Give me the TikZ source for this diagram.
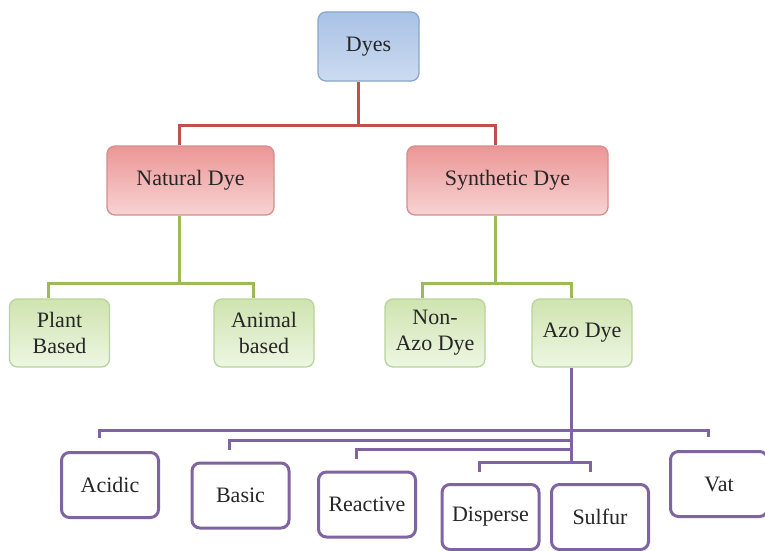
\documentclass[tikz,border=0pt]{standalone}
\usepackage{fontspec}
\setmainfont{Liberation Serif}
\definecolor{txt}{HTML}{262626}
\definecolor{redln}{HTML}{C0504D}
\definecolor{grnln}{HTML}{9BBB59}
\definecolor{purln}{HTML}{8064A2}
\definecolor{bluebd}{HTML}{8AA6CC}
\definecolor{bluetop}{HTML}{A9C2E6}
\definecolor{bluebot}{HTML}{CCDBF0}
\definecolor{redbd}{HTML}{D58E8E}
\definecolor{redtop}{HTML}{EC9696}
\definecolor{redbot}{HTML}{F7D3D3}
\definecolor{grnbd}{HTML}{B8D49A}
\definecolor{grntop}{HTML}{CFE4B0}
\definecolor{grnbot}{HTML}{EEF6E2}
\tikzset{
  box/.style={rectangle, rounded corners=8pt, align=center, text=txt,
    font=\fontsize{22}{26}\selectfont, inner sep=2pt},
  bluebox/.style={box, draw=bluebd, line width=1.3pt, top color=bluetop, bottom color=bluebot,
    minimum width=101pt, minimum height=69pt},
  redbox/.style={box, draw=redbd, line width=1.3pt, top color=redtop, bottom color=redbot,
    minimum height=69pt},
  grnbox/.style={box, draw=grnbd, line width=1.3pt, top color=grntop, bottom color=grnbot,
    minimum width=100pt, minimum height=68pt},
  purbox/.style={box, draw=purln, line width=3pt, fill=white,
    minimum width=97pt, minimum height=65pt},
  redc/.style={draw=redln, line width=3pt},
  grnc/.style={draw=grnln, line width=3pt},
  purc/.style={draw=purln, line width=3pt},
}
\begin{document}
\begin{tikzpicture}[x=1pt,y=-1pt]
\useasboundingbox (0,0) rectangle (765,551);
\fill[white] (0,0) rectangle (765,551);
% nodes
\node[bluebox] (dyes) at (368.5,46.5) {Dyes};
\node[redbox, minimum width=167pt] (nat) at (190.5,180.5) {Natural Dye};
\node[redbox, minimum width=201pt] (syn) at (507.5,180.5) {Synthetic Dye};
\node[grnbox] (plant) at (59.5,333) {Plant\\Based};
\node[grnbox] (animal) at (264,333) {Animal\\based};
\node[grnbox] (nonazo) at (435,333) {Non-\\Azo Dye};
\node[grnbox] (azo) at (582,333) {Azo Dye};
\node[purbox] (acidic) at (110,485) {Acidic};
\node[purbox] (basic) at (240.5,495.5) {Basic};
\node[purbox] (reactive) at (367,504.5) {Reactive};
\node[purbox] (disperse) at (490.5,517) {Disperse};
\node[purbox] (sulfur) at (600,517) {Sulfur};
\node[purbox] (vat) at (719,484) {Vat};
% red connectors
\coordinate (r0) at ([xshift=-10.5pt]dyes.south);
\draw[redc] (r0) -- (r0 |- 0,125) -| ([xshift=-11.5pt]nat.north);
\draw[redc] (r0 |- 0,125) -| ([xshift=-12.5pt]syn.north);
% green connectors
\coordinate (g1) at ([xshift=-11.5pt]nat.south);
\draw[grnc] (g1) -- (g1 |- 0,283) -| ([xshift=-11.5pt]plant.north);
\draw[grnc] (g1 |- 0,283) -| ([xshift=-11pt]animal.north);
\coordinate (g2) at ([xshift=-12.5pt]syn.south);
\draw[grnc] (g2) -- (g2 |- 0,283) -| ([xshift=-13pt]nonazo.north);
\draw[grnc] (g2 |- 0,283) -| ([xshift=-11pt]azo.north);
% purple connectors
\coordinate (p0) at ([xshift=-11pt]azo.south);
\draw[purc] (p0) -- (p0 |- 0,462);
\draw[purc] (p0 |- 0,430) -| ([xshift=-11pt,yshift=13pt]acidic.north);
\draw[purc] (p0 |- 0,430) -| ([xshift=-11pt,yshift=13pt]vat.north);
\draw[purc] (p0 |- 0,440) -| ([xshift=-11.5pt,yshift=12pt]basic.north);
\draw[purc] (p0 |- 0,449) -| ([xshift=-11pt,yshift=12pt]reactive.north);
\draw[purc] (p0 |- 0,462) -| ([xshift=-11.5pt,yshift=11pt]disperse.north);
\draw[purc] (p0 |- 0,462) -| ([xshift=-10pt,yshift=11pt]sulfur.north);
\end{tikzpicture}
\end{document}
